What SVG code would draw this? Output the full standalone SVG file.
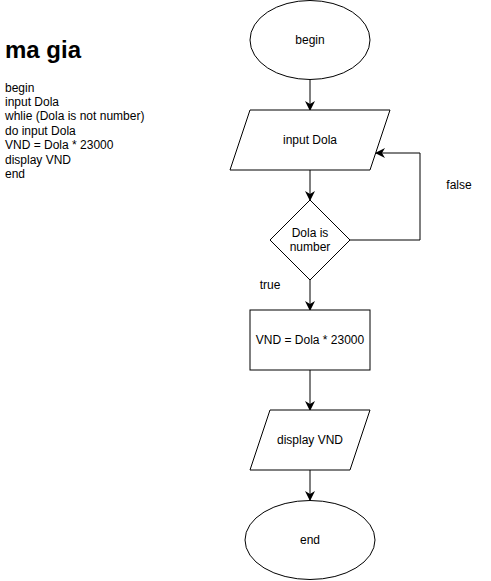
<svg xmlns="http://www.w3.org/2000/svg" width="491" height="581" viewBox="0 0 491 581">
<defs>
<marker id="arr" viewBox="0 0 10 10" refX="9" refY="5" markerWidth="10" markerHeight="10" markerUnits="userSpaceOnUse" orient="auto">
<path d="M0,0 L10,5 L0,10 L3,5 Z" fill="#000"/>
</marker>
</defs>
<style>
.shape{fill:#fff;stroke:#000;stroke-width:1}
.lbl{font-family:"Liberation Sans",Arial,sans-serif;font-size:12px;fill:#000;text-anchor:middle;dominant-baseline:central}
.edge{fill:none;stroke:#000;stroke-width:1;marker-end:url(#arr)}
.txt{font-family:"Liberation Sans",Arial,sans-serif;font-size:12px;fill:#000}
</style>
<rect width="491" height="581" fill="#fff"/>
<g id="note">
<text x="5" y="58" style="font-family:'Liberation Sans',Arial,sans-serif;font-size:24px;font-weight:bold;fill:#000">ma gia</text>
<text class="txt" x="5" y="91.5">begin</text>
<text class="txt" x="5" y="105.9">input Dola</text>
<text class="txt" x="5" y="120.3">whlie (Dola is not number)</text>
<text class="txt" x="5" y="134.7">do input Dola</text>
<text class="txt" x="5" y="149.1">VND = Dola * 23000</text>
<text class="txt" x="5" y="163.5">display VND</text>
<text class="txt" x="5" y="177.9">end</text>
</g>
<g id="connectors">
<line class="edge" x1="310" y1="80" x2="310" y2="110"/>
<line class="edge" x1="310" y1="170" x2="310" y2="200"/>
<polyline class="edge" points="350,240 420,240 420,153 376,153"/>
<line class="edge" x1="310" y1="280" x2="310" y2="310"/>
<line class="edge" x1="310" y1="370" x2="310" y2="410"/>
<line class="edge" x1="310" y1="470" x2="310" y2="500"/>
<text class="lbl" x="459" y="185">false</text>
<text class="lbl" x="270" y="285">true</text>
</g>
<g id="begin">
<ellipse class="shape" cx="310" cy="40" rx="60" ry="39.5"/>
<text class="lbl" x="310" y="40">begin</text>
</g>
<g id="input">
<polygon class="shape" points="250,110 390,110 370,170 230,170"/>
<text class="lbl" x="310" y="140">input Dola</text>
</g>
<g id="decision">
<polygon class="shape" points="310,200 350,240 310,280 270,240"/>
<text class="lbl" x="310" y="233">Dola is</text>
<text class="lbl" x="310" y="247">number</text>
</g>
<g id="compute">
<rect class="shape" x="250" y="310" width="120" height="60"/>
<text class="lbl" x="310" y="340">VND = Dola * 23000</text>
</g>
<g id="display">
<polygon class="shape" points="270,410 370,410 350,470 250,470"/>
<text class="lbl" x="310" y="440">display VND</text>
</g>
<g id="end">
<ellipse class="shape" cx="310" cy="540" rx="65" ry="39.5"/>
<text class="lbl" x="310" y="540">end</text>
</g>
</svg>
